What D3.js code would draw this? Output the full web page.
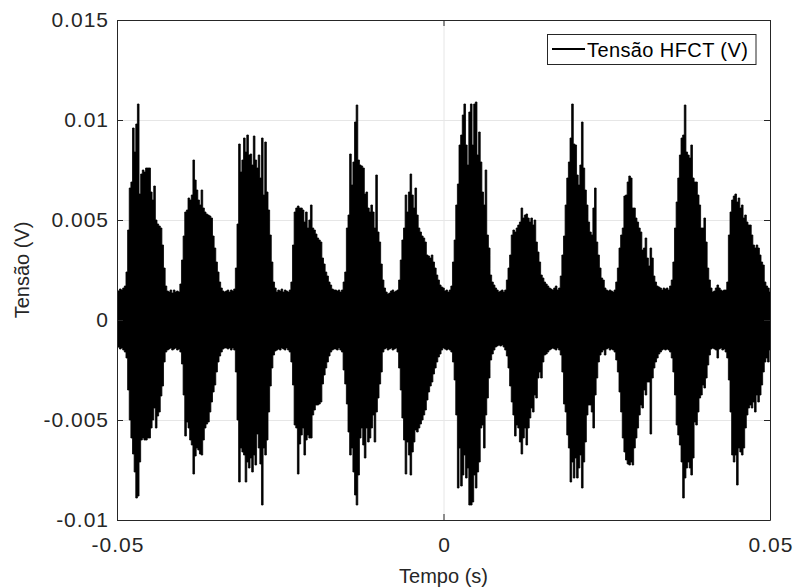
<!DOCTYPE html>
<html><head><meta charset="utf-8">
<script src="https://cdn.jsdelivr.net/npm/d3@7"></script>
<style>body{margin:0;background:#fff}svg{display:block}</style>
</head><body>
<svg id="chart" width="795" height="588"></svg>
<script>
// sample times (ms)
const timeMs = [
-50,-49.75,-49.5,-49.25,-49,-48.75,-48.5,-48.25,-48,-47.75,-47.5,-47.25,-47,-46.75,-46.5,-46.25,-46,-45.75,-45.5,-45.25,
-45,-44.75,-44.5,-44.25,-44,-43.75,-43.5,-43.25,-43,-42.75,-42.5,-42.25,-42,-41.75,-41.5,-41.25,-41,-40.75,-40.5,-40.25,
-40,-39.75,-39.5,-39.25,-39,-38.75,-38.5,-38.25,-38,-37.75,-37.5,-37.25,-37,-36.75,-36.5,-36.25,-36,-35.75,-35.5,-35.25,
-35,-34.75,-34.5,-34.25,-34,-33.75,-33.5,-33.25,-33,-32.75,-32.5,-32.25,-32,-31.75,-31.5,-31.25,-31,-30.75,-30.5,-30.25,
-30,-29.75,-29.5,-29.25,-29,-28.75,-28.5,-28.25,-28,-27.75,-27.5,-27.25,-27,-26.75,-26.5,-26.25,-26,-25.75,-25.5,-25.25,
-25,-24.75,-24.5,-24.25,-24,-23.75,-23.5,-23.25,-23,-22.75,-22.5,-22.25,-22,-21.75,-21.5,-21.25,-21,-20.75,-20.5,-20.25,
-20,-19.75,-19.5,-19.25,-19,-18.75,-18.5,-18.25,-18,-17.75,-17.5,-17.25,-17,-16.75,-16.5,-16.25,-16,-15.75,-15.5,-15.25,
-15,-14.75,-14.5,-14.25,-14,-13.75,-13.5,-13.25,-13,-12.75,-12.5,-12.25,-12,-11.75,-11.5,-11.25,-11,-10.75,-10.5,-10.25,
-10,-9.75,-9.5,-9.25,-9,-8.75,-8.5,-8.25,-8,-7.75,-7.5,-7.25,-7,-6.75,-6.5,-6.25,-6,-5.75,-5.5,-5.25,
-5,-4.75,-4.5,-4.25,-4,-3.75,-3.5,-3.25,-3,-2.75,-2.5,-2.25,-2,-1.75,-1.5,-1.25,-1,-0.75,-0.5,-0.25,
0,0.25,0.5,0.75,1,1.25,1.5,1.75,2,2.25,2.5,2.75,3,3.25,3.5,3.75,4,4.25,4.5,4.75,
5,5.25,5.5,5.75,6,6.25,6.5,6.75,7,7.25,7.5,7.75,8,8.25,8.5,8.75,9,9.25,9.5,9.75,
10,10.25,10.5,10.75,11,11.25,11.5,11.75,12,12.25,12.5,12.75,13,13.25,13.5,13.75,14,14.25,14.5,14.75,
15,15.25,15.5,15.75,16,16.25,16.5,16.75,17,17.25,17.5,17.75,18,18.25,18.5,18.75,19,19.25,19.5,19.75,
20,20.25,20.5,20.75,21,21.25,21.5,21.75,22,22.25,22.5,22.75,23,23.25,23.5,23.75,24,24.25,24.5,24.75,
25,25.25,25.5,25.75,26,26.25,26.5,26.75,27,27.25,27.5,27.75,28,28.25,28.5,28.75,29,29.25,29.5,29.75,
30,30.25,30.5,30.75,31,31.25,31.5,31.75,32,32.25,32.5,32.75,33,33.25,33.5,33.75,34,34.25,34.5,34.75,
35,35.25,35.5,35.75,36,36.25,36.5,36.75,37,37.25,37.5,37.75,38,38.25,38.5,38.75,39,39.25,39.5,39.75,
40,40.25,40.5,40.75,41,41.25,41.5,41.75,42,42.25,42.5,42.75,43,43.25,43.5,43.75,44,44.25,44.5,44.75,
45,45.25,45.5,45.75,46,46.25,46.5,46.75,47,47.25,47.5,47.75,48,48.25,48.5,48.75,49,49.25,49.5,49.75,
50];

// upper envelope of the HFCT signal (mV)
const upperMV = [
1.5,1.45,1.55,1.5,1.6,1.7,2.4,4.5,6.6,6.9,9.6,8.4,9.8,10.8,6.3,7.3,7.5,7.4,7.6,7.6,
7.6,6.4,6.0,6.7,5.0,4.8,4.7,4.6,3.75,2.6,1.7,1.45,1.4,1.5,1.35,1.5,1.4,1.45,1.4,1.8,
3.0,4.2,5.4,5.5,6.1,6.0,6.25,8.0,7.0,6.5,6.0,5.75,6.5,5.6,5.4,5.3,5.25,5.2,5.1,4.2,
3.6,2.9,2.4,1.9,1.6,1.45,1.4,
1.45,1.5,1.4,1.5,1.45,1.55,2.6,4.8,8.8,7.4,8.0,9.1,8.4,9.25,8.25,8.3,7.75,9.2,8.0,7.6,
8.25,7.1,9.1,6.25,8.9,6.4,5.5,4.25,2.9,1.9,1.6,1.4,1.5,1.45,1.55,1.4,1.5,1.45,1.4,1.5,
1.9,3.75,5.4,5.6,5.7,5.6,5.6,5.5,4.9,5.4,4.6,5.0,5.75,4.6,4.5,4.3,4.1,4.0,3.9,3.1,
2.8,2.4,2.2,1.9,1.75,1.55,1.5,
1.5,1.45,1.5,1.4,1.5,1.9,2.4,4.6,5.25,8.3,6.75,7.9,9.9,10.75,8.0,7.75,7.7,7.6,6.3,6.4,
5.6,5.4,5.75,5.4,4.6,7.25,4.4,3.9,2.8,2.0,1.6,1.4,1.3,1.35,1.45,1.5,1.4,1.45,1.5,2.0,
3.0,4.0,4.6,6.25,5.4,6.4,7.3,6.25,5.6,6.6,5.25,4.6,4.4,4.2,4.1,3.9,3.25,3.2,3.1,3.25,
2.9,2.6,2.25,2.0,1.75,1.65,1.6,
1.45,1.5,1.4,1.5,1.7,2.9,4.0,5.75,6.8,8.75,9.25,10.25,10.8,8.75,7.75,10.4,10.8,8.75,10.8,10.9,
8.25,9.4,7.9,6.4,5.75,7.5,4.25,3.6,2.25,1.9,1.75,1.6,1.5,1.4,1.45,1.5,1.4,1.5,2.0,2.6,
3.25,4.25,4.5,4.4,4.6,4.75,4.9,5.6,5.1,5.25,5.3,5.1,4.9,5.1,4.75,5.0,3.9,3.4,2.9,2.25,
2.1,1.9,1.8,1.7,1.6,1.55,1.5,
1.6,1.7,1.5,1.6,2.2,3.25,4.2,5.75,7.1,7.9,9.1,10.8,8.8,8.75,7.25,6.75,7.75,9.9,7.6,6.5,
5.75,4.9,4.4,4.25,5.6,6.6,3.9,3.25,2.6,2.1,2.0,1.6,1.5,1.45,1.5,1.45,1.4,1.5,1.9,2.6,
3.6,4.25,4.6,6.2,6.25,6.9,7.2,7.1,5.6,5.6,5.1,4.9,4.6,4.4,3.5,3.6,4.1,3.1,2.7,3.6,
3.1,2.2,1.9,1.7,1.65,1.6,1.5,
1.6,1.55,1.6,1.5,1.7,2.0,2.9,4.6,5.9,7.1,8.25,9.1,9.25,10.75,8.4,8.25,8.1,8.75,7.1,6.9,
6.9,6.25,5.75,4.6,4.6,5.1,3.9,2.6,2.0,1.6,1.4,1.45,1.6,1.75,1.6,1.5,1.45,1.5,1.5,1.9,
4.25,5.4,6.0,6.2,6.3,5.9,6.1,5.6,5.75,5.1,5.25,4.9,4.75,4.75,4.25,3.75,3.6,3.75,3.6,3.25,
2.9,2.75,1.9,1.7,1.6,1.4];

// lower envelope of the HFCT signal (mV)
const lowerMV = [
-1.4,-1.35,-1.45,-1.4,-1.5,-1.6,-1.9,-3.5,-5.0,-5.9,-6.7,-7.6,-8.9,-8.8,-7.1,-6.0,-5.9,-6.0,-6.0,-5.9,
-5.9,-5.4,-5.0,-4.4,-5.4,-4.8,-4.6,-3.8,-3.3,-2.1,-1.6,-1.5,-1.45,-1.4,-1.5,-1.45,-1.4,-1.5,-1.45,-1.6,
-2.2,-3.75,-5.8,-5.1,-5.4,-6.0,-6.25,-7.7,-6.8,-6.4,-6.5,-6.7,-6.75,-6.0,-5.4,-5.2,-5.1,-4.6,-4.1,-3.6,
-3.25,-2.6,-2.1,-1.8,-1.6,-1.45,-1.4,
-1.4,-1.45,-1.4,-1.5,-1.4,-1.5,-2.6,-5.0,-8.1,-6.4,-6.6,-6.75,-8.1,-7.1,-7.4,-6.9,-7.6,-6.75,-7.25,-5.7,
-6.4,-7.2,-9.25,-6.4,-6.75,-6.0,-4.6,-3.3,-2.4,-1.75,-1.55,-1.5,-1.45,-1.5,-1.4,-1.45,-1.5,-1.4,-1.5,-1.6,
-2.1,-3.25,-5.25,-5.4,-7.7,-6.2,-5.75,-5.4,-6.75,-6.0,-5.75,-5.9,-5.9,-4.75,-4.5,-4.25,-4.25,-4.2,-4.1,-3.2,
-2.75,-2.4,-2.1,-1.8,-1.6,-1.5,-1.45,
-1.45,-1.5,-1.4,-1.5,-1.6,-2.5,-3.2,-4.2,-5.6,-6.75,-6.4,-7.6,-8.75,-9.25,-7.75,-5.9,-5.4,-6.25,-6.9,-5.4,
-6.1,-5.9,-5.4,-4.75,-6.1,-4.6,-3.9,-3.2,-2.6,-1.6,-1.45,-1.4,-1.5,-1.45,-1.4,-1.5,-1.45,-1.4,-1.6,-2.4,
-3.5,-4.9,-6.0,-7.7,-6.1,-6.75,-7.75,-6.6,-6.1,-5.5,-5.6,-5.4,-5.2,-5.0,-4.75,-4.5,-4.0,-3.6,-3.3,-3.1,
-2.7,-2.4,-2.1,-1.85,-1.7,-1.5,-1.4,
-1.45,-1.5,-1.45,-1.5,-1.6,-2.1,-3.0,-4.75,-8.4,-6.4,-8.3,-7.75,-6.75,-7.9,-7.4,-9.25,-9.25,-9.1,-7.75,-8.4,
-7.6,-7.1,-5.4,-5.25,-6.4,-4.75,-3.9,-2.9,-2.0,-1.7,-1.5,-1.35,-1.3,-1.25,-1.3,-1.25,-1.35,-1.5,-1.8,-2.4,
-3.3,-4.1,-4.75,-5.8,-5.25,-5.4,-6.1,-6.7,-5.9,-5.4,-6.25,-5.4,-4.9,-4.4,-4.6,-3.75,-3.9,-2.9,-2.6,-2.9,
-2.1,-1.75,-1.7,-1.6,-1.5,-1.45,-1.4,
-1.45,-1.5,-1.4,-1.5,-1.75,-2.6,-4.2,-4.6,-5.75,-6.4,-8.1,-7.1,-7.9,-6.9,-7.9,-7.4,-6.75,-8.4,-7.1,-6.1,
-4.75,-4.25,-4.25,-4.6,-5.4,-3.75,-2.9,-2.1,-1.75,-1.6,-1.5,-1.75,-1.45,-1.4,-1.5,-1.45,-1.5,-1.6,-2.0,-2.6,
-3.6,-4.6,-5.9,-6.6,-7.0,-7.2,-7.25,-7.1,-7.25,-6.4,-5.9,-5.4,-4.75,-4.25,-4.4,-3.5,-3.75,-3.1,-3.1,-5.7,
-2.9,-2.4,-2.1,-1.9,-1.7,-1.6,-1.5,
-1.45,-1.5,-1.45,-1.5,-1.6,-1.9,-2.6,-3.75,-5.25,-5.75,-6.25,-7.1,-8.9,-7.9,-7.4,-7.1,-7.4,-7.75,-6.9,-5.1,
-5.25,-4.6,-3.9,-3.75,-3.25,-3.4,-2.9,-2.25,-1.75,-1.45,-1.4,-1.45,-1.5,-1.9,-1.45,-1.4,-1.5,-1.45,-1.6,-1.9,
-3.0,-4.6,-6.75,-7.1,-6.75,-8.25,-6.4,-6.6,-6.75,-6.4,-5.4,-4.75,-4.4,-4.25,-4.4,-4.1,-4.6,-3.75,-4.1,-3.75,
-3.25,-2.6,-2.1,-1.9,-2.1,-1.5];

const xTicks = [-0.05, 0, 0.05];
const xTickLabels = ["-0.05", "0", "0.05"];
const yTicks = [-0.01, -0.005, 0, 0.005, 0.01, 0.015];
const yTickLabels = ["-0.01", "-0.005", "0", "0.005", "0.01", "0.015"];
const seriesName = "Tensão HFCT (V)";
const xTitle = "Tempo (s)";
const yTitle = "Tensão (V)";

const FONT = "'Liberation Sans', Arial, Helvetica, sans-serif";
const AX = "#262626";
const L = 117, R = 770, T = 20, B = 520;

const svg = d3.select("#chart");
const x = d3.scaleLinear().domain([-0.05, 0.05]).range([L, R]);
const y = d3.scaleLinear().domain([-0.01, 0.015]).range([B, T]);

const data = timeMs.map((t, i) => ({ t: t / 1000, hi: upperMV[i] / 1000, lo: lowerMV[i] / 1000 }));

// grid
const grid = svg.append("g");
grid.append("g").attr("transform", `translate(0,${B})`)
  .call(d3.axisBottom(x).tickValues(xTicks).tickSize(-(B - T)).tickFormat(""))
  .call(g => { g.select(".domain").remove(); g.selectAll("line").attr("stroke", "#e6e6e6").attr("stroke-width", 1); });
grid.append("g").attr("transform", `translate(${L},0)`)
  .call(d3.axisLeft(y).tickValues(yTicks).tickSize(-(R - L)).tickFormat(""))
  .call(g => { g.select(".domain").remove(); g.selectAll("line").attr("stroke", "#e6e6e6").attr("stroke-width", 1); });

// clip
svg.append("clipPath").attr("id", "clip").append("rect")
  .attr("x", L).attr("y", T).attr("width", R - L).attr("height", B - T);

// signal
const area = d3.area()
  .x(d => x(d.t))
  .y0(d => y(d.lo))
  .y1(d => y(d.hi))
  .curve(d3.curveStep);
svg.append("path").datum(data)
  .attr("clip-path", "url(#clip)")
  .attr("d", area)
  .attr("fill", "#000")
  .attr("stroke", "#000")
  .attr("stroke-width", 0.8)
  .attr("stroke-linejoin", "miter");

// axes
function styleAxis(g) {
  g.select(".domain").attr("stroke", AX).attr("stroke-width", 1);
  g.selectAll(".tick line").attr("stroke", AX);
  g.selectAll("text").attr("fill", AX).style("font-family", FONT)
    .style("font-size", "21px").style("letter-spacing", "1px");
}
svg.append("g").attr("transform", `translate(0,${B})`)
  .call(d3.axisBottom(x).tickValues(xTicks).tickSizeInner(-6).tickSizeOuter(0).tickPadding(17)
    .tickFormat((d, i) => xTickLabels[i]))
  .call(styleAxis)
  .call(g => g.selectAll("text").attr("dx", "0.5px"));
svg.append("g").attr("transform", `translate(0,${T})`)
  .call(d3.axisTop(x).tickValues(xTicks).tickSizeInner(-6).tickSizeOuter(0).tickFormat(""))
  .call(styleAxis);
svg.append("g").attr("transform", `translate(${L},0)`)
  .call(d3.axisLeft(y).tickValues(yTicks).tickSizeInner(-6).tickSizeOuter(0).tickPadding(8)
    .tickFormat((d, i) => yTickLabels[i]))
  .call(styleAxis);
svg.append("g").attr("transform", `translate(${R},0)`)
  .call(d3.axisRight(y).tickValues(yTicks).tickSizeInner(-6).tickSizeOuter(0).tickFormat(""))
  .call(styleAxis);

// titles
svg.append("text").attr("x", (L + R) / 2).attr("y", 583)
  .attr("text-anchor", "middle").attr("fill", AX)
  .style("font-family", FONT).style("font-size", "20px").text(xTitle);
svg.append("text").attr("transform", `translate(28.5,${(T + B) / 2}) rotate(-90)`)
  .attr("text-anchor", "middle").attr("fill", AX)
  .style("font-family", FONT).style("font-size", "20px").text(yTitle);

// legend
const lg = svg.append("g");
lg.append("rect").attr("x", 547.5).attr("y", 34.5).attr("width", 208.5).attr("height", 30)
  .attr("fill", "#fff").attr("stroke", AX).attr("stroke-width", 1);
lg.append("line").attr("x1", 552).attr("x2", 585).attr("y1", 49).attr("y2", 49)
  .attr("stroke", "#000").attr("stroke-width", 2);
lg.append("text").attr("x", 587).attr("y", 56.5).attr("fill", "#000")
  .style("font-family", FONT).style("font-size", "20px").style("letter-spacing", "0.4px").text(seriesName);
</script>
</body></html>
